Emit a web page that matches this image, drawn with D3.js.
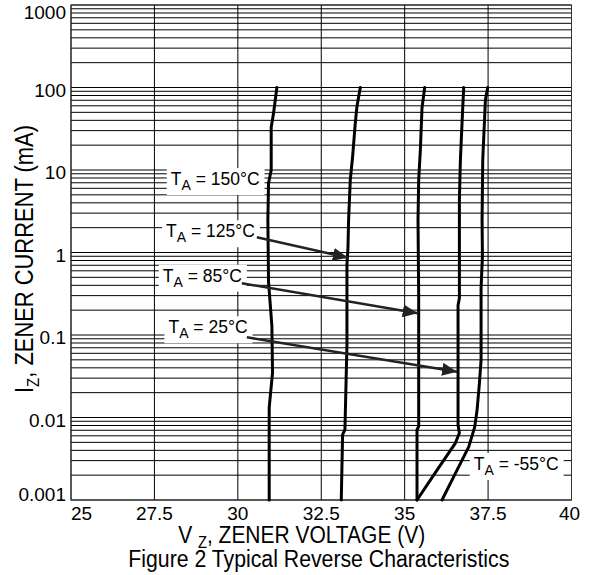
<!DOCTYPE html>
<html>
<head>
<meta charset="utf-8">
<script src="https://cdn.jsdelivr.net/npm/d3@7"></script>
<style>
  body { margin: 0; background: #fff; }
  text { font-family: "Liberation Sans", Arial, Helvetica, sans-serif; fill: #000; }
</style>
</head>
<body>
<script>
// axis ticks
const vTicks = [25, 27.5, 30, 32.5, 35, 37.5, 40];
const vTickLabels = ["25", "27.5", "30", "32.5", "35", "37.5", "40"];
const iTicks = [0.001, 0.01, 0.1, 1, 10, 100, 1000];
const iTickLabels = ["0.001", "0.01", "0.1", "1", "10", "100", "1000"];

// curves: zener voltage (V) and current (mA)
const v150 = [31.17, 31.07, 31.0, 31.0, 30.92, 30.90, 30.92, 31.02, 31.04, 30.94, 30.94];
const i150 = [100, 48.6, 33, 10, 6.9, 2.5, 0.44, 0.13, 0.035, 0.0132, 0.001];
const v125 = [33.67, 33.57, 33.52, 33.44, 33.37, 33.32, 33.30, 33.27, 33.27, 33.21, 33.14, 33.10];
const i125 = [100, 59, 37, 14.5, 7.6, 2.5, 1.12, 0.71, 0.076, 0.0071, 0.0062, 0.001];
const v85 = [35.60, 35.52, 35.47, 35.42, 35.40, 35.42, 35.42, 35.37, 35.37];
const i85 = [100, 57, 17.4, 7.6, 2.5, 0.3, 0.0078, 0.0071, 0.001];
const v25 = [36.77, 36.74, 36.67, 36.64, 36.64, 36.60, 36.60, 36.64, 36.52, 35.97, 35.37];
const i25 = [100, 57, 13.2, 4.4, 0.28, 0.23, 0.0081, 0.0065, 0.0049, 0.0023, 0.001];
const vm55 = [37.49, 37.42, 37.34, 37.32, 37.33, 37.29, 37.29, 37.24, 37.17, 37.10, 36.92, 36.52, 36.12];
const im55 = [100, 71, 13.2, 2.5, 0.9, 0.37, 0.05, 0.026, 0.0123, 0.0077, 0.0044, 0.0021, 0.001];

// temperature labels: text, anchor (V, mA)
const labelTemps = ["150\u00b0C", "125\u00b0C", "85\u00b0C", "25\u00b0C", "-55\u00b0C"];
const labelV = [27.99, 27.85, 27.75, 27.92, 37.07];
const labelI = [6.58, 1.53, 0.443, 0.105, 0.00231];

// arrows from label to curve: start and tip (V, mA)
const arrowFromV = [30.57, 30.12, 30.27];
const arrowFromI = [1.53, 0.424, 0.0937];
const arrowToV = [33.30, 35.39, 36.57];
const arrowToI = [0.865, 0.183, 0.0359];

const w = 592, h = 575;
const pLeft = 71, pRight = 571.5, pTop = 5, pBottom = 500;

const x = d3.scaleLinear().domain([25, 40]).range([pLeft, pRight]);
const y = d3.scaleLog().domain([0.001, 1000]).range([pBottom, pTop]);

const svg = d3.select("body").append("svg")
    .attr("width", w)
    .attr("height", h);

// grid
const grid = svg.append("g");
grid.selectAll("line.h")
    .data(y.ticks())
    .enter().append("line")
    .attr("x1", pLeft).attr("x2", pRight)
    .attr("y1", d => y(d)).attr("y2", d => y(d))
    .attr("stroke", "#000").attr("stroke-width", 1);
grid.selectAll("line.v")
    .data(vTicks)
    .enter().append("line")
    .attr("x1", d => x(d)).attr("x2", d => x(d))
    .attr("y1", pTop).attr("y2", pBottom)
    .attr("stroke", "#000").attr("stroke-width", 1);
svg.append("rect")
    .attr("x", pLeft).attr("y", pTop)
    .attr("width", pRight - pLeft).attr("height", pBottom - pTop)
    .attr("fill", "none").attr("stroke", "#333").attr("stroke-width", 1);

// tick labels
svg.selectAll("text.yt")
    .data(iTicks)
    .enter().append("text")
    .attr("x", 66)
    .attr("y", (d, i) => y(d) + (i == 0 ? 0.5 : i == iTicks.length - 1 ? 14 : 9.3))
    .attr("text-anchor", "end")
    .attr("font-size", 19)
    .text((d, i) => iTickLabels[i]);

svg.selectAll("text.xt")
    .data(vTicks)
    .enter().append("text")
    .attr("x", (d, i) => i == vTicks.length - 1 ? x(d) - 2 : x(d))
    .attr("y", 519.5)
    .attr("text-anchor", (d, i) => i == 0 ? "start" : "middle")
    .attr("font-size", 19)
    .text((d, i) => vTickLabels[i]);

// axis titles
const yTitle = svg.append("text")
    .attr("transform", "translate(32.5,259) rotate(-90)")
    .attr("text-anchor", "middle")
    .attr("font-size", 25)
    .attr("textLength", 268)
    .attr("lengthAdjust", "spacingAndGlyphs");
yTitle.append("tspan").text("I");
yTitle.append("tspan").attr("font-size", 17).attr("dy", 6).text("Z");
yTitle.append("tspan").attr("dy", -6).text(", ZENER CURRENT (mA)");

const xTitle = svg.append("text")
    .attr("x", 301.7).attr("y", 542.7)
    .attr("text-anchor", "middle")
    .attr("font-size", 23)
    .attr("textLength", 247)
    .attr("lengthAdjust", "spacingAndGlyphs");
xTitle.append("tspan").text("V ");
xTitle.append("tspan").attr("font-size", 16).attr("dy", 5).text("Z");
xTitle.append("tspan").attr("dy", -5).text(", ZENER VOLTAGE (V)");

svg.append("text")
    .attr("x", 318.8).attr("y", 567)
    .attr("text-anchor", "middle")
    .attr("font-size", 23)
    .attr("textLength", 381)
    .attr("lengthAdjust", "spacingAndGlyphs")
    .text("Figure 2 Typical Reverse Characteristics");

// temperature labels on white boxes
const labels = svg.append("g");
labelTemps.forEach((t, i) => {
    const g = labels.append("g");
    const txt = g.append("text")
        .attr("x", x(labelV[i])).attr("y", y(labelI[i]))
        .attr("font-size", 17.5);
    txt.append("tspan").text("T");
    txt.append("tspan").attr("font-size", 14).attr("dy", 5).text("A");
    txt.append("tspan").attr("dy", -5).text(" = " + t);
    const bb = txt.node().getBBox();
    g.insert("rect", "text")
        .attr("x", bb.x - 4).attr("y", bb.y - 1)
        .attr("width", bb.width + 9).attr("height", bb.height + 3)
        .attr("fill", "#fff");
});

// curves
const line = d3.line()
    .x(d => x(d[0]))
    .y(d => y(d[1]));

const curves = [[v150, i150], [v125, i125], [v85, i85], [v25, i25], [vm55, im55]];
svg.selectAll("path.curve")
    .data(curves)
    .enter().append("path")
    .attr("class", "curve")
    .attr("d", c => line(d3.zip(c[0], c[1])))
    .attr("fill", "none")
    .attr("stroke", "#000")
    .attr("stroke-width", 3)
    .attr("stroke-linejoin", "round")
    .attr("stroke-linecap", "round");

// arrows
svg.append("defs").append("marker")
    .attr("id", "head")
    .attr("markerUnits", "userSpaceOnUse")
    .attr("markerWidth", 16).attr("markerHeight", 13)
    .attr("refX", 15).attr("refY", 6.5)
    .attr("orient", "auto")
    .append("path")
    .attr("d", "M0,0 L15,6.5 L0,13 Z")
    .attr("fill", "#222");

svg.selectAll("line.arrow")
    .data(arrowFromV)
    .enter().append("line")
    .attr("x1", (d, i) => x(d))
    .attr("y1", (d, i) => y(arrowFromI[i]))
    .attr("x2", (d, i) => x(arrowToV[i]))
    .attr("y2", (d, i) => y(arrowToI[i]))
    .attr("stroke", "#222")
    .attr("stroke-width", 2.5)
    .attr("marker-end", "url(#head)");
</script>
</body>
</html>
